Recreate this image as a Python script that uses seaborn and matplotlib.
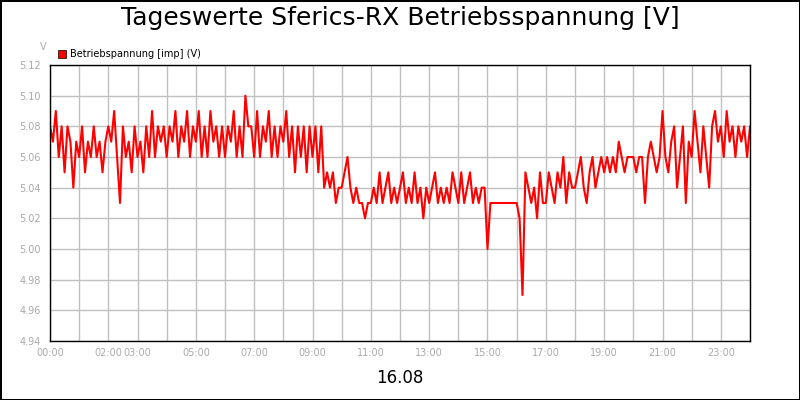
import matplotlib
matplotlib.use("Agg")
import matplotlib.pyplot as plt
import seaborn as sns
import numpy as np
import pandas as pd
from matplotlib.patches import Patch

# voltage readings in hundredths above 5.00 V, 10 per hour (6-minute steps)
hourly = [
    [8,7,9,6,8,5,8,7,4,7],
    [6,8,5,7,6,8,6,7,5,7],
    [8,7,9,6,3,8,6,7,5,8],
    [6,7,5,8,6,9,6,8,7,8],
    [6,8,7,9,6,8,7,9,6,8],
    [7,9,6,8,6,9,7,8,6,8],
    [6,8,7,9,6,8,6,10,8,8],
    [6,9,6,8,7,9,6,8,6,8],
    [7,9,6,8,5,8,6,8,5,8],
    [6,8,5,8,4,5,4,5,3,4],
    [4,5,6,4,3,4,3,3,2,3],
    [3,4,3,5,3,4,5,3,4,3],
    [4,5,3,4,3,5,3,4,2,4],
    [3,4,5,3,4,3,4,3,5,4],
    [3,5,3,4,5,3,4,3,4,4],
    [0,3,3,3,3,3,3,3,3,3],
    [3,2,-3,5,4,3,4,2,5,3],
    [3,5,4,3,5,4,6,3,5,4],
    [4,5,6,4,3,5,6,4,5,6],
    [5,6,5,6,5,7,6,5,6,6],
    [6,5,6,6,3,6,7,6,5,6],
    [9,6,5,7,8,4,6,8,3,7],
    [6,9,7,5,8,6,4,8,9,7],
    [8,6,9,7,8,6,8,7,8,6],
]
final_value = 8
tick_hours = [0, 2, 3, 5, 7, 9, 11, 13, 15, 17, 19, 21, 23]
tick_labels = ["00:00", "02:00", "03:00", "05:00", "07:00", "09:00", "11:00",
               "13:00", "15:00", "17:00", "19:00", "21:00", "23:00"]
y_ticks = [4.94, 4.96, 4.98, 5.00, 5.02, 5.04, 5.06, 5.08, 5.10, 5.12]

vals = [v for h in hourly for v in h] + [final_value]
volts = 5.0 + np.array(vals) / 100.0
hours = np.arange(len(vals)) / 10.0
df = pd.DataFrame({"h": hours, "v": volts})

sns.set_style("white")
plt.rcParams["text.color"] = "black"
fig = plt.figure(figsize=(8, 4), dpi=100)
fig.patch.set_edgecolor("black")
fig.patch.set_linewidth(2)
ax = fig.add_axes([50/800, 1-341/400, 700/800, 276/400])
sns.lineplot(data=df, x="h", y="v", ax=ax, color="#ff0000", linewidth=1.5, legend=False)
ax.set_xlim(0, 24)
ax.set_ylim(4.94, 5.12)
ax.set_xticks(range(25))
ax.set_xticklabels(["" for _ in range(25)])
for h, lab in zip(tick_hours, tick_labels):
    ax.text(h, -0.025, lab, transform=ax.get_xaxis_transform(), ha="center",
            va="top", fontsize=7, color="#aaaaaa")
ax.set_yticks(y_ticks)
ax.set_yticklabels([f"{t:.2f}" for t in y_ticks], fontsize=7, color="#aaaaaa")
ax.tick_params(axis="both", length=3, color="#aaaaaa")
ax.grid(True, color="#c0c0c0", linewidth=1)
for s in ax.spines.values():
    s.set_color("black"); s.set_linewidth(1)
ax.set_xlabel(""); ax.set_ylabel("")
fig.text(0.5, 0.955, "Tageswerte Sferics-RX Betriebsspannung [V]", ha="center",
         va="center", fontsize=18, color="black")
fig.text(0.5, 0.055, "16.08", ha="center", va="center", fontsize=12, color="black")
fig.text(43/800, 1-47/400, "V", ha="center", va="center", fontsize=7, color="#aaaaaa")
ax.legend(handles=[Patch(facecolor="#ff0000", edgecolor="black", linewidth=0.5,
                         label="Betriebspannung [imp] (V)")],
          loc="lower left", bbox_to_anchor=(8/700, 1.02), frameon=False,
          fontsize=7, handlelength=0.8, handleheight=0.8, borderaxespad=0,
          borderpad=0, handletextpad=0.4, labelcolor="black")
fig.savefig("out.png", dpi=100, edgecolor=fig.get_edgecolor())
